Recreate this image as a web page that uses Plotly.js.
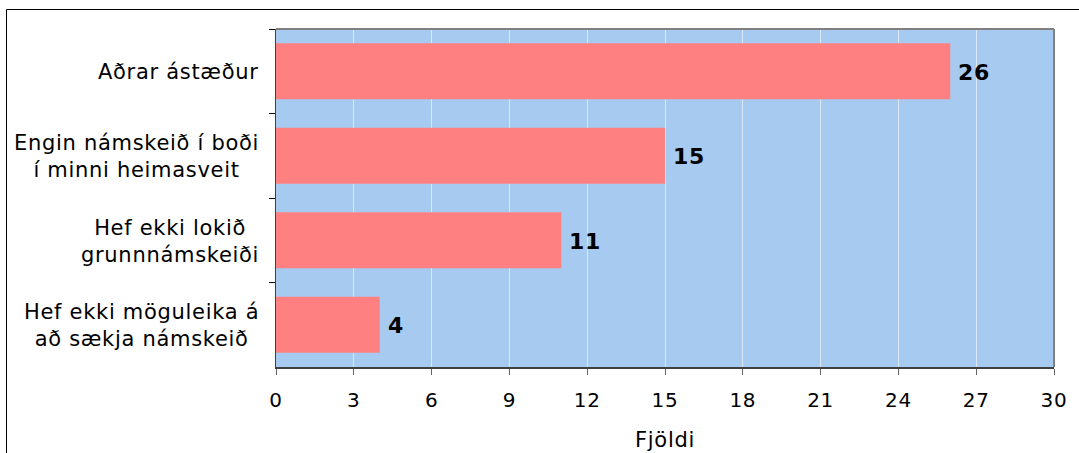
<!DOCTYPE html>
<html>
<head>
<meta charset="utf-8">
<script src="https://cdn.plot.ly/plotly-3.0.1.min.js"></script>
<style>
html,body{margin:0;padding:0;background:#fff;}
#chart{width:1079px;height:453px;}
svg text{letter-spacing:0.7px;}
</style>
</head>
<body>
<div id="chart"></div>
<script>
const categories = ["Aðrar ástæður", "Engin námskeið í boði<br>í minni heimasveit", "Hef ekki lokið<br>grunnnámskeiði", "Hef ekki möguleika á<br>að sækja námskeið"];
const values = [26, 15, 11, 4];
const xTicks = [0, 3, 6, 9, 12, 15, 18, 21, 24, 27, 30];
const xTitle = "Fjöldi";

const W = 1079, H = 453;
const mL = 276, mR = 25, mT = 29, mB = 86;
const pw = W - mL - mR, ph = H - mT - mB;
const FONT = "DejaVu Sans, Verdana, sans-serif";

const trace = {
  type: 'bar',
  orientation: 'h',
  y: categories,
  x: values,
  width: 0.66,
  marker: {color: '#ff8080', line: {width: 0}},
  hoverinfo: 'none'
};

const catLabels = categories.map(c => ({
  xref: 'paper', yref: 'y', x: 0, y: c,
  xanchor: 'right', yanchor: 'middle', xshift: -15, yshift: -1,
  text: c, align: 'center', showarrow: false,
  font: {family: FONT, size: 21, color: '#000'}
}));

const valLabels = values.map((v, i) => ({
  xref: 'x', yref: 'y', x: v, y: categories[i],
  xanchor: 'left', yanchor: 'middle', xshift: 6, yshift: -1,
  text: '<b>' + v + '</b>', showarrow: false,
  font: {family: FONT, size: 22, color: '#000'}
}));

const layout = {
  width: W, height: H,
  margin: {l: mL, r: mR, t: mT, b: mB, pad: 0},
  paper_bgcolor: '#ffffff',
  plot_bgcolor: '#a6caf0',
  showlegend: false,
  font: {family: FONT, size: 20, color: '#000'},
  xaxis: {
    range: [0, 30],
    tickvals: xTicks,
    ticktext: xTicks.map(String),
    showgrid: true, gridcolor: '#dbe8f7', gridwidth: 1,
    zeroline: false,
    showline: true, linecolor: '#404040', linewidth: 1.5,
    mirror: false,
    ticks: 'outside', ticklen: 6, tickcolor: '#666', tickwidth: 1,
    ticklabelstandoff: 8,
    tickfont: {family: FONT, size: 20, color: '#000'},
    title: {text: xTitle, font: {family: FONT, size: 21, color: '#000'}, standoff: 22},
    fixedrange: true
  },
  yaxis: {
    type: 'category',
    categoryorder: 'array', categoryarray: categories,
    autorange: false, range: [3.5, -0.5],
    tickson: 'boundaries',
    ticks: 'outside', ticklen: 6, tickcolor: '#000', tickwidth: 1,
    showticklabels: false,
    showgrid: false, zeroline: false,
    showline: true, linecolor: '#404040', linewidth: 1.5,
    fixedrange: true
  },
  shapes: [
    {type: 'line', xref: 'paper', yref: 'paper', x0: 0, x1: 1, y0: 1, y1: 1, line: {color: '#808080', width: 2}},
    {type: 'line', xref: 'paper', yref: 'paper', x0: 1, x1: 1, y0: 0, y1: 1, line: {color: '#808080', width: 2}},
    {type: 'rect', xref: 'paper', yref: 'paper',
     x0: (6.5 - mL) / pw, x1: (W + 20 - mL) / pw,
     y0: -(H + 20 - mT - ph) / ph, y1: 1 + (mT - 9.5) / ph,
     line: {color: '#000', width: 1}, fillcolor: 'rgba(0,0,0,0)', layer: 'below'}
  ],
  annotations: catLabels.concat(valLabels)
};

Plotly.newPlot('chart', [trace], layout, {displayModeBar: false, staticPlot: true});
</script>
</body>
</html>
